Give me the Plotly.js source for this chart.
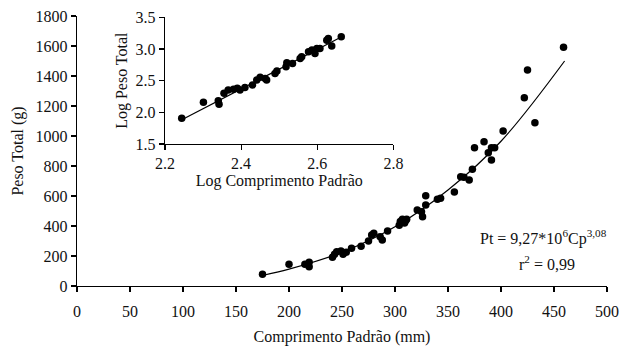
<!DOCTYPE html>
<html>
<head>
<meta charset="utf-8">
<script src="https://cdn.plot.ly/plotly-3.0.1.min.js"></script>
<style>html,body{margin:0;padding:0;background:#fff;}#chart{width:634px;height:346px;}</style>
</head>
<body>
<div id="chart"></div>
<script>
// Main scatter: Comprimento Padrão (mm) vs Peso Total (g)
const mainCp = [175,200,215,219,219,241,243,245,249,251,254,259,268,275,278,280,286,288,293,304,305,307,309,310,311,321,325,326,329,329,340,343,356,362,365,370,373,375,384,388,391,394,391,402,422,425,432,459];
const mainPt = [78,145,145,129,158,191,211,229,233,211,225,251,265,300,340,351,329,307,367,405,430,445,420,435,445,507,495,462,540,602,578,585,627,729,725,707,778,922,962,889,922,922,840,1033,1255,1440,1089,1591];
// Fitted curve
const fitCp = [175,200,250,300,350,400,460];
const fitPt = [70,112,225,395,640,965,1500];

// Inset: Log Comprimento Padrão vs Log Peso Total
const logCp = [2.244,2.301,2.340,2.342,2.355,2.366,2.380,2.390,2.397,2.410,2.430,2.441,2.450,2.463,2.467,2.489,2.494,2.518,2.520,2.535,2.555,2.559,2.577,2.586,2.594,2.599,2.607,2.625,2.629,2.638,2.663];
const logPt = [1.905,2.158,2.183,2.126,2.300,2.352,2.363,2.379,2.352,2.394,2.431,2.509,2.552,2.536,2.509,2.615,2.651,2.719,2.782,2.773,2.852,2.877,2.956,2.983,2.931,3.009,3.009,3.140,3.167,3.046,3.192];
const logFitX = [2.248,2.663];
const logFitY = [1.894,3.190];

const xTicks = [0,50,100,150,200,250,300,350,400,450,500];
const yTicks = [0,200,400,600,800,1000,1200,1400,1600,1800];
const ixTicks = [2.2,2.4,2.6,2.8];
const iyTicks = [1.5,2.0,2.5,3.0,3.5];

const FONT = 'Liberation Serif, Times New Roman, serif';
const FS = 16;
const mk = {color:'#000', size:7.5};
const ln = {color:'#000', width:1.2};

const traces = [
  {x:fitCp, y:fitPt, mode:'lines', line:Object.assign({shape:'spline'}, ln), xaxis:'x', yaxis:'y', hoverinfo:'skip'},
  {x:mainCp, y:mainPt, mode:'markers', marker:mk, xaxis:'x', yaxis:'y'},
  {x:logFitX, y:logFitY, mode:'lines', line:ln, xaxis:'x2', yaxis:'y2', hoverinfo:'skip'},
  {x:logCp, y:logPt, mode:'markers', marker:mk, xaxis:'x2', yaxis:'y2'}
];

const axBase = {showgrid:false, zeroline:false, showline:true, linecolor:'#000', linewidth:1.2,
  ticks:'outside', ticklen:5, tickcolor:'#000', tickwidth:1.2, tickfont:{family:FONT, size:FS, color:'#111'}};

const layout = {
  width:634, height:346,
  margin:{l:77, r:27, t:16, b:60},
  paper_bgcolor:'#fff', plot_bgcolor:'rgba(0,0,0,0)',
  showlegend:false,
  font:{family:FONT, color:'#111'},
  xaxis: Object.assign({}, axBase, {range:[0,500], tickvals:xTicks, domain:[0,1], anchor:'y', ticklabelstandoff:6,
    title:{text:'Comprimento Padrão (mm)', font:{family:FONT, size:FS, color:'#111'}, standoff:12}}),
  yaxis: Object.assign({}, axBase, {range:[0,1800], tickvals:yTicks, domain:[0,1], anchor:'x',
    title:{text:'Peso Total (g)', font:{family:FONT, size:FS, color:'#111'}, standoff:8}}),
  xaxis2: Object.assign({}, axBase, {range:[2.2,2.8], tickvals:ixTicks, ticktext:['2.2','2.4','2.6','2.8'], domain:[0.166,0.597], anchor:'y2',
    title:{text:'Log Comprimento Padrão', font:{family:FONT, size:FS, color:'#111'}, standoff:0}}),
  yaxis2: Object.assign({}, axBase, {range:[1.5,3.5], tickvals:iyTicks, ticktext:['1.5','2.0','2.5','3.0','3.5'], domain:[0.526,0.995], anchor:'x2',
    title:{text:'Log Peso Total', font:{family:FONT, size:FS, color:'#111'}, standoff:4}}),
  annotations:[
    {xref:'paper', yref:'paper', x:0.88, y:0.18, xanchor:'center', yanchor:'middle', text:'Pt = 9,27*10<sup>6</sup>Cp<sup>3,08</sup>', showarrow:false, font:{family:FONT, size:FS, color:'#111'}},
    {xref:'paper', yref:'paper', x:0.887, y:0.085, xanchor:'center', yanchor:'middle', text:'r<sup>2</sup> = 0,99', showarrow:false, font:{family:FONT, size:FS, color:'#111'}}
  ]
};

Plotly.newPlot('chart', traces, layout, {displayModeBar:false, staticPlot:true});
</script>
</body>
</html>
